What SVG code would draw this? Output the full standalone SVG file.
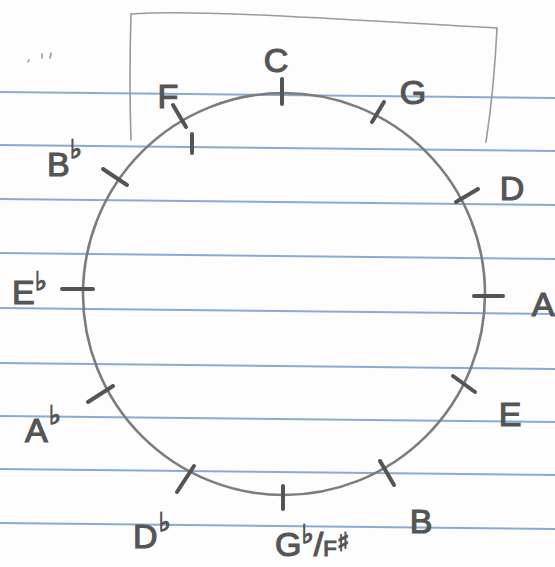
<svg xmlns="http://www.w3.org/2000/svg" width="555" height="567" viewBox="0 0 555 567">
  <style>
    .rule { stroke: #86acd6; stroke-width: 2; fill: none; }
    .box { stroke: #9a9a9a; stroke-width: 1.6; fill: none; stroke-linecap: round; }
    .ring { stroke: #7c7c7c; stroke-width: 2.6; fill: none; }
    .tick { stroke: #545454; stroke-width: 4; stroke-linecap: round; }
    .lbl { font-family: "Liberation Sans", "DejaVu Sans", sans-serif; font-size: 34px; fill: #555555; stroke: #555555; stroke-width: 1.2; }
    .acc { font-family: "DejaVu Sans", sans-serif; font-size: 26px; }
  </style>
  <rect width="555" height="567" fill="#fdfdfd"/>
  <g id="paper">
    <line class="rule" x1="0" y1="92" x2="555" y2="98"/>
    <line class="rule" x1="0" y1="145" x2="555" y2="151"/>
    <line class="rule" x1="0" y1="199" x2="555" y2="205"/>
    <line class="rule" x1="0" y1="253" x2="555" y2="259"/>
    <line class="rule" x1="0" y1="308" x2="555" y2="314"/>
    <line class="rule" x1="0" y1="363" x2="555" y2="369"/>
    <line class="rule" x1="0" y1="416" x2="555" y2="422"/>
    <line class="rule" x1="0" y1="469" x2="555" y2="475"/>
    <line class="rule" x1="0" y1="523" x2="555" y2="529"/>
    <path class="box" d="M131,14 Q129,80 131,140"/>
    <path class="box" d="M131,14 C200,9 350,20 497,28"/>
    <path class="box" d="M497,28 Q494,90 486,142"/>
    <path class="box" d="M28,62 l1,-2 M42,58 l0,-4 M50,58 l1,-5" stroke-width="1.2"/>
  </g>
  <g id="circle-of-fifths">
    <circle class="ring" cx="284" cy="294" r="201"/>
  </g>
  <g id="note-C">
    <line class="tick" x1="282" y1="79" x2="282" y2="104"/>
    <text class="lbl" x="276" y="72" text-anchor="middle">C</text>
  </g>
  <g id="note-G">
    <line class="tick" x1="372" y1="122" x2="384" y2="102"/>
    <text class="lbl" x="413" y="104" text-anchor="middle">G</text>
  </g>
  <g id="note-D">
    <line class="tick" x1="456" y1="202" x2="478" y2="189"/>
    <text class="lbl" x="512" y="200" text-anchor="middle">D</text>
  </g>
  <g id="note-A">
    <line class="tick" x1="474" y1="296" x2="503" y2="296"/>
    <text class="lbl" x="543" y="316" text-anchor="middle">A</text>
  </g>
  <g id="note-E">
    <line class="tick" x1="453" y1="376" x2="475" y2="392"/>
    <text class="lbl" x="510" y="426" text-anchor="middle">E</text>
  </g>
  <g id="note-B">
    <line class="tick" x1="380" y1="461" x2="394" y2="485"/>
    <text class="lbl" x="421" y="533" text-anchor="middle">B</text>
  </g>
  <g id="note-Gb-Fsharp">
    <line class="tick" x1="283" y1="486" x2="283" y2="509"/>
    <text class="lbl" x="275" y="556" font-size="32">G<tspan class="acc" font-size="22" dy="-13">♭</tspan><tspan dy="13">/</tspan><tspan font-size="22">F</tspan><tspan class="acc" font-size="17" dy="-5">♯</tspan></text>
  </g>
  <g id="note-Db">
    <line class="tick" x1="194" y1="466" x2="177" y2="492"/>
    <text class="lbl" x="133" y="548">D<tspan class="acc" dx="1" dy="-17">♭</tspan></text>
  </g>
  <g id="note-Ab">
    <line class="tick" x1="113" y1="386" x2="88" y2="402"/>
    <text class="lbl" x="25" y="442">A<tspan class="acc" dx="1" dy="-18">♭</tspan></text>
  </g>
  <g id="note-Eb">
    <line class="tick" x1="62" y1="289" x2="93" y2="289"/>
    <text class="lbl" x="12" y="304">E<tspan class="acc" dy="-14">♭</tspan></text>
  </g>
  <g id="note-Bb">
    <line class="tick" x1="103" y1="169" x2="127" y2="185"/>
    <text class="lbl" x="47" y="176">B<tspan class="acc" dy="-18">♭</tspan></text>
  </g>
  <g id="note-F">
    <line class="tick" x1="186" y1="127" x2="173" y2="105"/>
    <line class="tick" x1="192" y1="134" x2="192" y2="153" stroke-width="3.5"/>
    <text class="lbl" x="168" y="108" text-anchor="middle">F</text>
  </g>
</svg>
